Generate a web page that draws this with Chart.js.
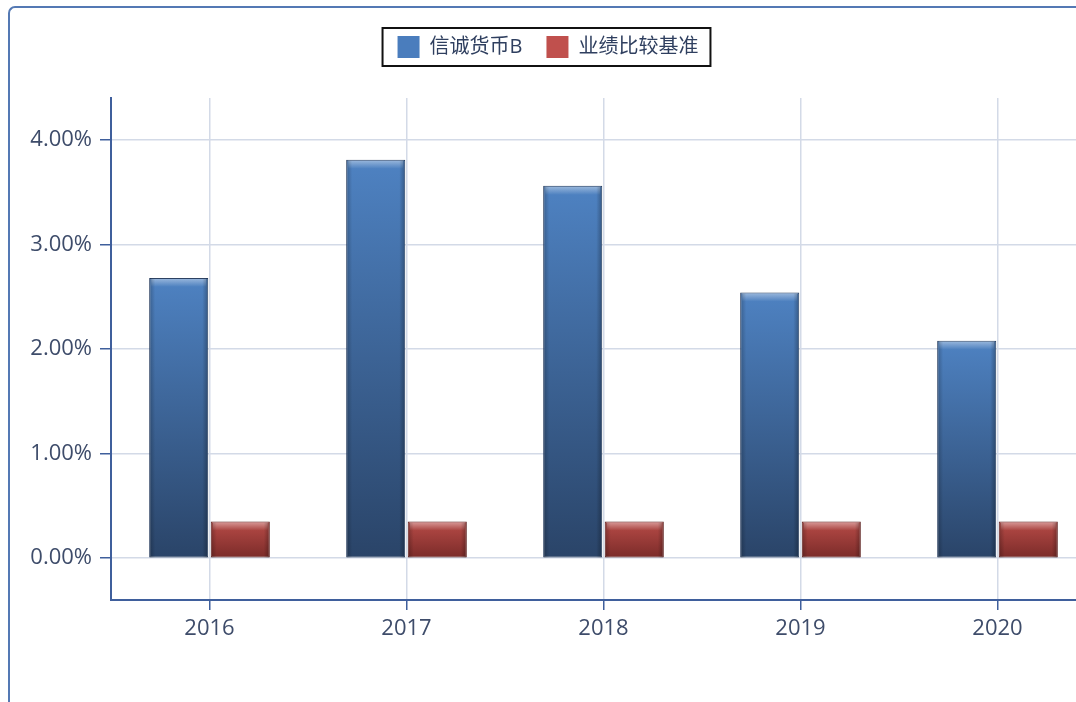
<!DOCTYPE html>
<html>
<head>
<meta charset="utf-8">
<script src="https://cdn.jsdelivr.net/npm/chart.js@4/dist/chart.umd.min.js"></script>
<style>
  html, body { margin: 0; padding: 0; background: #fff; overflow: hidden; width: 1076px; height: 702px; }
  #frame { position: absolute; left: 8px; top: 6px; width: 1200px; height: 800px;
    border-left: 2px solid #5479b4; border-top: 2px solid #5479b4; border-top-left-radius: 7px; }
  #chart { position: absolute; left: 0; top: 0; }
</style>
</head>
<body>
<div id="frame"></div>
<canvas id="chart" width="1096" height="702"></canvas>
<script>
'use strict';

const years = ['2016', '2017', '2018', '2019', '2020'];
const fundReturn = [2.68, 3.81, 3.56, 2.54, 2.08];
const benchmark = [0.35, 0.35, 0.35, 0.35, 0.35];
const yTicks = [0, 1, 2, 3, 4];

const FONT = "'Open Sans', 'Noto Sans CJK SC', sans-serif";

function barGradient(top, bottom) {
  return ctx => {
    const chart = ctx.chart;
    if (!chart.chartArea || ctx.parsed == null) return top;
    const y = chart.scales.y;
    const y0 = y.getPixelForValue(ctx.parsed.y);
    const y1 = y.getPixelForValue(0);
    const g = chart.ctx.createLinearGradient(0, y0, 0, y1);
    g.addColorStop(0, top);
    g.addColorStop(1, bottom);
    return g;
  };
}

// extra room under the legend so the plot starts lower
const legendGap = {
  id: 'legendGap',
  beforeLayout(chart) {
    const lg = chart.legend;
    if (!lg || lg._gapPatched) return;
    const fit = lg.fit.bind(lg);
    lg.fit = function () { fit(); this.height += 30; };
    lg._gapPatched = true;
  }
};

// glossy bevel on each bar
const bevel = {
  id: 'bevel',
  afterDatasetsDraw(chart) {
    const c = chart.ctx;
    chart.data.datasets.forEach((ds, i) => {
      chart.getDatasetMeta(i).data.forEach(bar => {
        const left = bar.x - bar.width / 2, right = bar.x + bar.width / 2;
        const top = bar.y, bottom = bar.base;
        c.save();
        let g = c.createLinearGradient(0, top, 0, top + 9);
        g.addColorStop(0, 'rgba(255,255,255,0.45)');
        g.addColorStop(1, 'rgba(255,255,255,0)');
        c.fillStyle = g;
        c.fillRect(left + 2, top + 1, right - left - 4, 9);
        g = c.createLinearGradient(left, 0, left + 6, 0);
        g.addColorStop(0, 'rgba(0,0,0,0.25)');
        g.addColorStop(1, 'rgba(0,0,0,0)');
        c.fillStyle = g;
        c.fillRect(left + 1, top + 1, 6, bottom - top - 1);
        g = c.createLinearGradient(right, 0, right - 6, 0);
        g.addColorStop(0, 'rgba(0,0,0,0.3)');
        g.addColorStop(1, 'rgba(0,0,0,0)');
        c.fillStyle = g;
        c.fillRect(right - 7, top + 1, 6, bottom - top - 1);
        c.restore();
      });
    });
  }
};

// black frame round the legend
const legendFrame = {
  id: 'legendFrame',
  afterDraw(chart) {
    const boxes = chart.legend && chart.legend.legendHitBoxes;
    if (!boxes || !boxes.length) return;
    const first = boxes[0], last = boxes[boxes.length - 1];
    const c = chart.ctx;
    c.save();
    c.strokeStyle = '#111';
    c.lineWidth = 2;
    c.strokeRect(first.left - 15, first.top - 8, last.left + last.width - first.left + 27, first.height + 16);
    c.restore();
  }
};

new Chart(document.getElementById('chart').getContext('2d'), {
  type: 'bar',
  data: {
    labels: years,
    datasets: [
      { label: '信诚货币B', data: fundReturn, backgroundColor: barGradient('#4e82c2', '#2a4468'),
        borderColor: '#22385a', borderWidth: 1, borderSkipped: false },
      { label: '业绩比较基准', data: benchmark, backgroundColor: barGradient('#b84b47', '#7a2b29'),
        borderColor: '#5a1c1b', borderWidth: 1, borderSkipped: false },
    ],
  },
  options: {
    responsive: false,
    animation: false,
    devicePixelRatio: 1,
    layout: { padding: { top: 12, left: 0, right: 0, bottom: 0 } },
    datasets: { bar: { barPercentage: 0.96, categoryPercentage: 0.625 } },
    plugins: {
      tooltip: { enabled: false },
      legend: {
        position: 'top',
        labels: {
          color: '#2f3f5f',
          font: { family: FONT, size: 20 },
          boxWidth: 22, boxHeight: 22,
          padding: 24,
          generateLabels: chart => chart.data.datasets.map((ds, i) => ({
            text: ds.label,
            fillStyle: i === 0 ? '#4a7dbd' : '#c0504d',
            strokeStyle: i === 0 ? '#4a7dbd' : '#c0504d',
            lineWidth: 0,
            fontColor: '#2f3f5f',
            datasetIndex: i,
          })),
        },
      },
    },
    scales: {
      x: {
        grid: { offset: false, color: '#d3dae7', lineWidth: 1.5, tickColor: '#3f5f9c', tickLength: 10 },
        border: { color: '#3f5f9c', width: 2 },
        ticks: { color: '#3e4c6a', font: { family: FONT, size: 22 }, padding: 6 },
        afterFit: s => { s.height = 102; },
      },
      y: {
        min: -0.4,
        max: 4.4,
        afterBuildTicks: s => { s.ticks = yTicks.map(v => ({ value: v })); },
        grid: { color: '#d3dae7', lineWidth: 1.5, tickColor: '#3f5f9c', tickLength: 11 },
        border: { color: '#3f5f9c', width: 2 },
        ticks: { color: '#3e4c6a', font: { family: FONT, size: 22 }, padding: 8,
          callback: v => v.toFixed(2) + '%' },
        afterFit: s => { s.width = 111; },
      },
    },
  },
  plugins: [legendGap, bevel, legendFrame],
});
</script>
</body>
</html>
